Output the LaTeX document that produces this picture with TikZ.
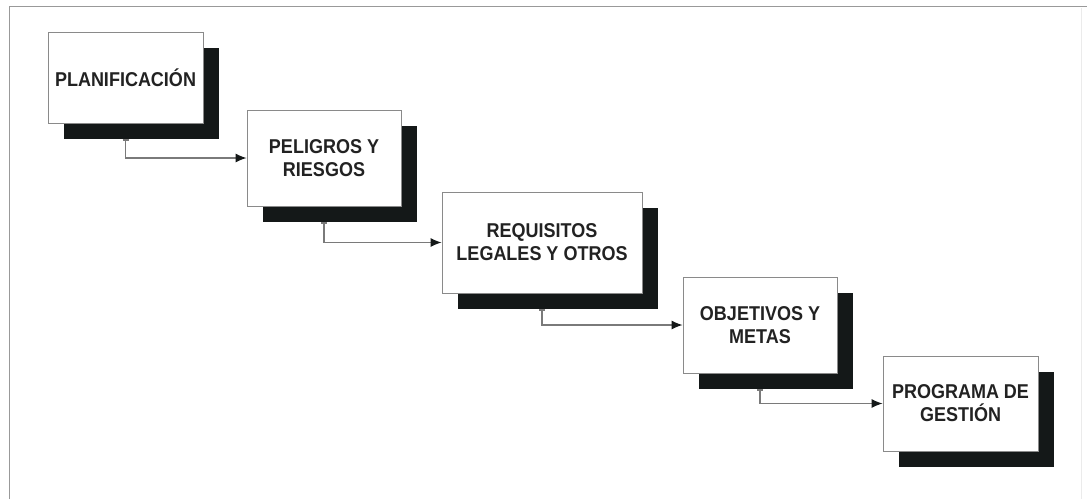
\documentclass[tikz,border=0pt]{standalone}
\usepackage{fontspec}
\setmainfont{Liberation Sans}
\newfontfamily\boxfont[FakeStretch=0.9]{Liberation Sans}
\usetikzlibrary{shadows,calc,arrows.meta}
\definecolor{boxline}{HTML}{8A8A8A}
\definecolor{shade}{HTML}{141818}
\definecolor{txt}{HTML}{222222}
\definecolor{conn}{HTML}{7A7A7A}
\definecolor{frameline}{HTML}{999999}
\tikzset{
  stepbox/.style={draw=boxline, line width=0.9pt, fill=white, align=center,
    inner sep=0pt, text=txt, font=\boxfont\fontsize{20}{23}\selectfont\bfseries,
    drop shadow={shadow xshift=16pt, shadow yshift=-16pt, fill=shade, opacity=1}},
  flow/.style={draw=conn, line width=1.1pt, {Bar[width=6pt,line width=1.2pt]}-{Latex[length=11pt,width=9pt,color=shade]}}
}
\begin{document}
\begin{tikzpicture}[x=1pt,y=-1pt]
\useasboundingbox (0,0) rectangle (1087,499);
\fill[white] (0,0) rectangle (1087,499);
\draw[frameline, line width=1.8pt] (9.5,499) -- (9.5,6.5) -- (1087,6.5);
\draw[black!8, line width=1pt] (1081,8) -- (1081,499);

\node[stepbox, minimum width=155pt, minimum height=91pt] (b1) at (125.5,77.5) {PLANIFICACIÓN};
\node[stepbox, minimum width=154pt, minimum height=96pt] (b2) at (324,158) {PELIGROS Y\\RIESGOS};
\node[stepbox, minimum width=200pt, minimum height=101pt] (b3) at (542,242.5) {REQUISITOS\\LEGALES Y OTROS};
\node[stepbox, minimum width=154pt, minimum height=96pt] (b4) at (760,325) {OBJETIVOS Y\\METAS};
\node[stepbox, minimum width=155pt, minimum height=95pt] (b5) at (960.5,403.5) {PROGRAMA DE\\GESTIÓN};

\coordinate (s1) at ($(b1.south)+(0,16)$);
\coordinate (s2) at ($(b2.south)+(0,16)$);
\coordinate (s3) at ($(b3.south)+(0,16)$);
\coordinate (s4) at ($(b4.south)+(0,16)$);

\draw[flow] (s1) |- (b2.west);
\draw[flow] (s2) |- (b3.west);
\draw[flow] (s3) |- (b4.west);
\draw[flow] (s4) |- (b5.west);
\end{tikzpicture}
\end{document}
